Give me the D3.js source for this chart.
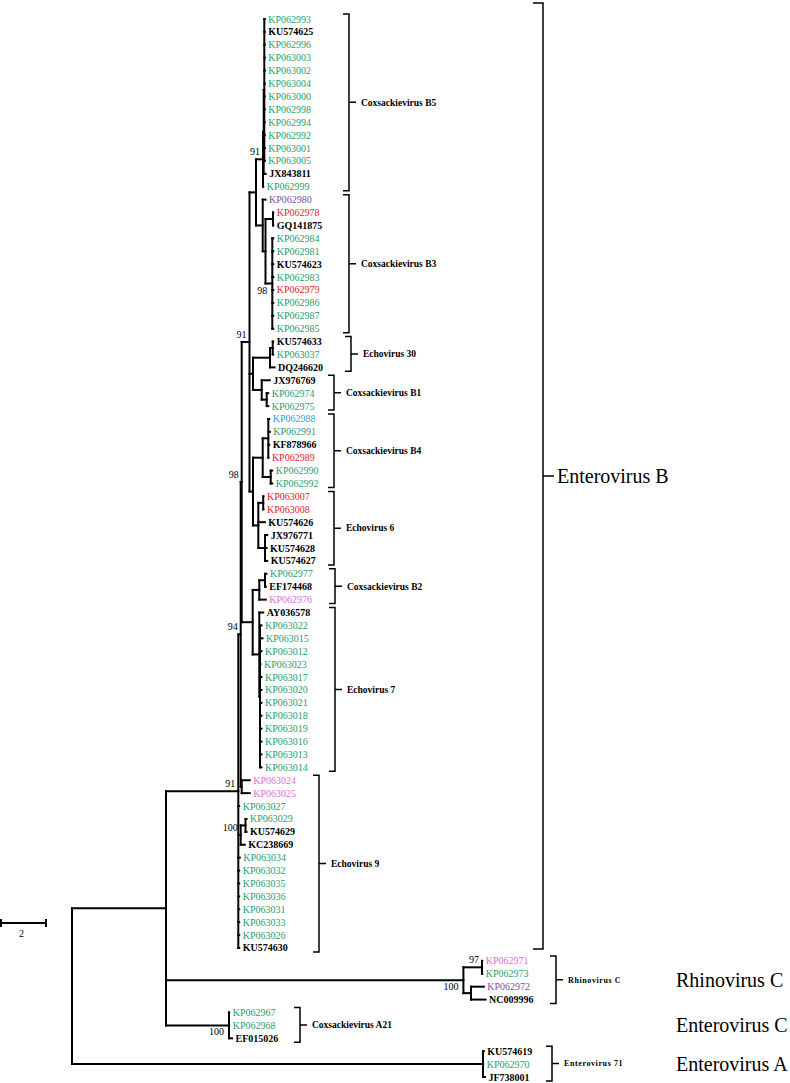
<!DOCTYPE html>
<html><head><meta charset="utf-8">
<script src="https://cdn.jsdelivr.net/npm/d3@7"></script>
<style>
html,body{margin:0;padding:0;background:#fff;}
svg{display:block;}
</style></head><body>
<svg id="chart" width="790" height="1083"></svg>
<script>
// ---------------- DATA ----------------
// Tree topology with branch lengths (substitution units, scale bar = 2)
const newick = `(
 (
  (
   (
    (
     (
      (
       (
        (
         (KP062993:0.022,KU574625:0.022,KP062996:0.022,KP063003:0.022,KP063002:0.022,KP063004:0.022,KP063000:0.022,KP062998:0.022,KP062994:0.022,KP062992:0.022,KP063001:0.022,KP063005:0.022)S2:0.027,
         JX843811:0.089
        )S:0.031,
        KP062999:0.009
       )B5:0.311,
       (
        KP062980:0.124,
        (
         (KP062978:0.013,GQ141875:0.013)Pr:0.333,
         (KP062984:0.044,KP062981:0.044,KU574623:0.044,KP062983:0.044,KP062979:0.044,KP062986:0.044,KP062987:0.044,KP062985:0.044)B3in:0.302
        )Y:0.124
       )B3:0.298
      )P:0.289,
      (
       ((KU574633:0.022,KP063037:0.022)Pe:0.12,DQ246620:0.2)E30:0.756,
       (JX976769:0.36,(KP062974:0.067,KP062975:0.067)Pb:0.222)B1:0.387
      )U:0.156,
      (
       ((KP062988:0.04,KP062991:0.067,KF878966:0.04,KP062989:0.004)sub1:0.249,(KP062990:0.067,KP062992:0.067)sub2:0.356)B4:0.431,
       ((KP063007:0.009,KP063008:0.009)pA:0.218,KU574626:0.289,(JX976771:0.098,KU574628:0.067,KU574627:0.098)trio:0.298)E6:0.236
      )W:0.156
     )N91b:0.347,
     (
      ((KP062977:0.067,EF174468:0.036)pB2:0.253,KP062976:0.289)B2:0.293,
      (AY036578:0.173,(KP063022:0.067,KP063015:0.111,KP063012:0.067,KP063023:0.022,KP063017:0.067,KP063020:0.067,KP063021:0.067,KP063018:0.067,KP063019:0.067,KP063016:0.067,KP063013:0.067,KP063014:0.067)E7b:0.031)E7:0.293
     )Z:0.489
    )N98:0.044,
    (KP063024:0.356,KP063025:0.356)P24:0.044
   )N94:0.107,
   KP063027:0.04,
   ((KP063029:0.044,KU574629:0.044)pE9:0.213,KC238669:0.182)N100:0.107,
   KP063034:0.067,KP063032:0.04,KP063035:0.04,KP063036:0.04,KP063031:0.04,KP063033:0.04,KP063026:0.04,KU574630:0.04
  )EntB:3.213,
  ((KP062971:0.009,KP062973:0.009)N97:0.827,(KP062972:0.569,NC009996:0.644)Nr:0.338)RhC:13.218,
  (KP062967:0.009,KP062968:0.009,EF015026:0.133)A21:2.8
 )A:4.178,
 (KU574619:0.036,KP062970:0.009,JF738001:0.084)EV71:18.267
)root;`;

// leaf colour class in leaf order: g=green, k=reference (black bold), p=purple, r=red, m=magenta, c=cyan
const leafClasses = ("gkggggggggggkg" + "prkggkgrggg" + "kgk" + "kgg" + "cgkrgg" + "rrkkkk" + "gkm" +
  "kgggggggggggg" + "mmggkkgggggggk" + "mgpk" + "ggk" + "kgk").split("");

// bootstrap support values on internal nodes
const support = [["B5",91],["B3in",98],["N91b",91],["N98",98],["N94",94],["EntB",91],["N100",100],["N97",97],["RhC",100],["A21",100]];
const supportBelow = ["B3in","RhC","A21"];

// genotype clusters: [label, first leaf index, last leaf index]
const clusters = [
  ["Coxsackievirus B5",0,13],["Coxsackievirus B3",14,24],["Echovirus 30",25,27],["Coxsackievirus B1",28,30],
  ["Coxsackievirus B4",31,36],["Echovirus 6",37,42],["Coxsackievirus B2",43,45],["Echovirus 7",46,58],
  ["Echovirus 9",59,72],["Rhinovirus C",73,76],["Coxsackievirus A21",77,79],["Enterovirus 71",80,82]
];
// species groups
const species = [["Enterovirus B",0,72],["Rhinovirus C",73,76],["Enterovirus C",77,79],["Enterovirus A",80,82]];
const scaleBarValue = 2;

// ---------------- LAYOUT ----------------
const clusterX = [349,349,351,334,334,334,335,335,319,556,300,552];
const clusterSmall = [false,false,false,false,false,false,false,false,false,true,false,true];
const colors = {g:"#1f9e6e", k:"#000000", p:"#7a4fa6", r:"#e3231e", m:"#dc6fdc", c:"#2a9fd6"};
const FONT = "'Liberation Serif','Times New Roman',serif";

function parseNewick(str){
  const s = str.replace(/\s+/g,"");
  let i = 0;
  function node(){
    const n = {};
    if (s[i] === "("){
      i++; n.children = [node()];
      while (s[i] === ","){ i++; n.children.push(node()); }
      i++;
    }
    let name = "";
    while (i < s.length && !",():;".includes(s[i])) name += s[i++];
    n.name = name;
    n.length = 0;
    if (s[i] === ":"){
      i++; let num = "";
      while (i < s.length && !",();".includes(s[i])) num += s[i++];
      n.length = +num;
    }
    return n;
  }
  return node();
}

const svg = d3.select("#chart");
const root = d3.hierarchy(parseNewick(newick));
const leaves = root.leaves();

const xScale = d3.scaleLinear().domain([0, 1]).range([72, 94.5]);
const yScale = d3.scaleLinear().domain([0, leaves.length - 1]).range([19, 1077]);

root.each(d => { d.dist = d.parent ? d.parent.dist + d.data.length : 0; });
leaves.forEach((d, i) => { d.idx = i; d.py = yScale(i); });
root.eachAfter(d => {
  if (d.children) d.py = (d.children[0].py + d.children[d.children.length - 1].py) / 2;
});
root.each(d => { d.px = xScale(d.dist); });

const gTree = svg.append("g").attr("fill","none").attr("stroke","#000").attr("stroke-width",2).attr("stroke-linecap","square");
gTree.selectAll("path.h").data(root.descendants().filter(d => d.parent)).join("path")
  .attr("d", d => `M${d.parent.px},${d.py}H${d.px}`);
gTree.selectAll("path.v").data(root.descendants().filter(d => d.children)).join("path")
  .attr("d", d => `M${d.px},${d.children[0].py}V${d.children[d.children.length-1].py}`);

// leaf labels
svg.append("g").selectAll("text").data(leaves).join("text")
  .attr("x", d => d.px + 3.5).attr("y", d => d.py).attr("dy","0.35em")
  .attr("font-family", FONT).attr("font-size", 10)
  .attr("font-weight", d => leafClasses[d.idx] === "k" ? "bold" : "normal")
  .attr("fill", d => colors[leafClasses[d.idx]])
  .text(d => d.data.name);

// bootstrap values
const supMap = new Map(support);
svg.append("g").selectAll("text").data(root.descendants().filter(d => supMap.has(d.data.name))).join("text")
  .attr("x", d => supportBelow.includes(d.data.name) ? d.px - 5 : d.px - 3)
  .attr("y", d => supportBelow.includes(d.data.name) ? d.py + 10 : d.py - 4)
  .attr("text-anchor","end").attr("font-family", FONT).attr("font-size", 10).attr("fill","#000")
  .text(d => supMap.get(d.data.name));

// cluster brackets
const gB = svg.append("g");
clusters.forEach((c, k) => {
  const x = clusterX[k];
  const top = yScale(c[1]) - 5, bot = yScale(c[2]) + 4, mid = (top + bot) / 2;
  gB.append("path").attr("fill","none").attr("stroke","#000").attr("stroke-width",1.5)
    .attr("d", `M${x-6},${top}H${x}V${bot}H${x-6}M${x},${mid}H${x+7}`);
  gB.append("text").attr("x", x + 12).attr("y", mid).attr("dy","0.35em")
    .attr("font-family", FONT).attr("font-weight","bold")
    .attr("font-size", clusterSmall[k] ? 8 : 9.5)
    .attr("letter-spacing", clusterSmall[k] ? 0.6 : 0)
    .text(c[0]);
});

// species labels
species.forEach((s, k) => {
  if (k === 0){
    const x = 543, top = yScale(s[1]) - 16, bot = yScale(s[2]) + 1, mid = (top + bot) / 2;
    gB.append("path").attr("fill","none").attr("stroke","#000").attr("stroke-width",1.5)
      .attr("d", `M${x-10},${top}H${x}V${bot}H${x-10}M${x},${mid}H${x+11}`);
    gB.append("text").attr("x", x + 14).attr("y", mid).attr("dy","0.35em")
      .attr("font-family", FONT).attr("font-size", 20).text(s[0]);
  } else {
    const mid = (yScale(s[1]) + yScale(s[2])) / 2;
    gB.append("text").attr("x", 676).attr("y", mid).attr("dy","0.35em")
      .attr("font-family", FONT).attr("font-size", 20).text(s[0]);
  }
});

// scale bar
const barW = xScale(scaleBarValue) - xScale(0);
const gS = svg.append("g").attr("stroke","#000").attr("stroke-width",2).attr("fill","none");
gS.append("path").attr("d", `M1,923H${1+barW}M1,919V927M${1+barW},919V927`);
svg.append("text").attr("x", 1 + barW/2 - 2).attr("y", 933).attr("dy","0.35em").attr("text-anchor","middle")
  .attr("font-family", FONT).attr("font-size", 10).text(scaleBarValue);
</script>
</body></html>
